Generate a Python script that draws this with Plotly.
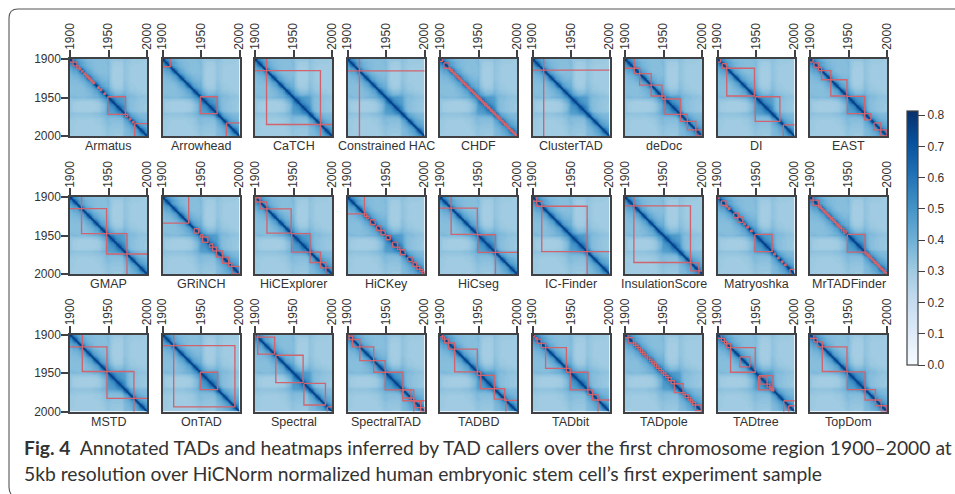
import numpy as np
import plotly.graph_objects as go

W, H = 955, 494
# Shared contact map, upper triangle, read per 3-bin cell (hundredths), from 1900 to 2000
BIN_CENTERS = [1901.5 + 3 * k for k in range(34)]
CONTACT_UPPER = [
    [78,58,50,46,43,40,38,37,36,36,35,35,35,35,35,36,36,33,32,32,32,32,32,34,33,32,31,31,31,31,31,31,30,30],
    [78,58,50,46,43,40,38,37,36,36,35,35,35,35,36,37,33,31,30,30,30,31,34,32,32,31,31,31,31,31,30,30,30],
    [78,56,47,43,41,39,37,36,36,35,35,35,35,35,37,33,30,30,30,30,30,33,32,31,31,30,30,30,30,30,30,30],
    [78,56,47,43,40,38,37,36,35,35,35,35,35,36,33,30,29,29,29,30,33,32,31,30,30,30,30,30,30,30,30],
    [78,56,47,43,40,38,36,35,35,35,35,35,36,33,29,29,29,29,30,33,32,31,30,30,30,30,30,30,30,30],
    [78,56,47,43,40,38,36,35,35,35,35,36,33,29,29,29,29,30,33,32,31,30,30,30,30,30,30,30,30],
    [78,56,47,43,40,38,37,36,36,35,36,33,29,29,29,29,30,33,32,31,30,30,30,30,30,30,30,30],
    [78,56,47,43,40,38,37,36,36,37,33,29,29,29,29,30,33,32,31,30,30,30,30,30,30,30,30],
    [78,56,47,43,40,39,37,37,38,33,29,29,29,29,30,33,32,31,30,30,30,30,30,30,30,30],
    [78,56,47,43,40,39,38,39,33,30,29,29,29,30,34,32,31,30,30,30,30,30,30,30,30],
    [78,56,47,43,41,39,40,34,30,29,29,29,31,34,33,31,31,30,30,30,30,30,30,30],
    [78,56,47,43,41,41,35,31,30,30,30,31,35,33,32,31,31,30,30,30,30,30,30],
    [78,56,48,44,43,37,33,31,31,31,32,35,34,32,31,31,31,30,30,30,30,30],
    [78,57,49,46,40,35,33,33,33,34,37,35,33,32,32,31,31,31,30,30,30],
    [78,58,51,44,40,37,36,36,37,39,36,35,34,33,33,32,32,31,31,31],
    [78,60,50,44,41,41,41,42,42,38,37,36,35,34,33,33,33,32,32],
    [78,60,54,50,48,48,47,46,39,37,36,36,35,34,34,33,33,33],
    [78,60,54,50,48,47,46,39,36,35,35,34,33,33,32,32,32],
    [78,60,54,50,48,47,39,36,35,34,33,33,32,32,32,31],
    [78,60,54,51,48,39,36,35,34,33,33,32,32,31,31],
    [78,60,55,51,40,36,35,34,33,33,32,32,31,31],
    [78,60,55,41,37,35,34,33,33,32,32,31,31],
    [78,60,46,39,36,35,34,33,33,32,32,32],
    [78,58,47,42,39,38,37,36,36,36,35],
    [78,56,47,43,41,39,38,37,37,36],
    [78,56,47,43,41,39,38,37,37],
    [78,56,47,44,42,40,39,38],
    [78,56,48,45,43,41,40],
    [78,56,48,45,43,42],
    [78,57,49,46,44],
    [78,58,50,47],
    [78,58,50],
    [78,58],
    [78],
]

CALLERS = ["Armatus","Arrowhead","CaTCH","Constrained HAC","CHDF","ClusterTAD","deDoc","DI","EAST",
           "GMAP","GRiNCH","HiCExplorer","HiCKey","HiCseg","IC-Finder","InsulationScore","Matryoshka","MrTADFinder",
           "MSTD","OnTAD","Spectral","SpectralTAD","TADBD","TADbit","TADpole","TADtree","TopDom"]

# TAD (start, end) read per caller; starts/ends outside 1900-2000 run past the window
TADS = {
 "Armatus": [(1890,1904),(1904,1909),(1909,1912),(1912,1914),(1915,1917),(1918,1920),(1920,1922),(1922,1924),(1924,1926),(1926,1928),(1928,1930),(1930,1932),(1936,1938),(1939,1941),(1944,1946),(1949,1972),(1972,1975),(1977,1979),(1981,1983),(1984,2010)],
 "Arrowhead": [(1890,1910),(1949,1971),(1983,2010)],
 "CaTCH": [(1890,1915),(1915,1985),(1985,2010)],
 "Constrained HAC": [(1890,1915.5),(1915.5,2010)],
 "CHDF": [(1890,1903),(1905,1912),(1912,1914),(1914,1916),(1916,1918),(1918,1920),(1920,1922),(1922,1924),(1924,1926),(1926,1928),(1928,1930),(1930,1932),(1932,1934),(1934,1936),(1936,1938),(1938,1940),(1940,1942),(1942,1944),(1944,1946),(1946,1948),(1948,1950),(1950,1952),(1952,1954),(1954,1956),(1956,1958),(1958,1960),(1960,1962),(1962,1964),(1964,1966),(1966,1968),(1968,1970),(1970,1972),(1972,1974),(1974,1976),(1976,1978),(1978,1980),(1980,1982),(1982,1984),(1984,1986),(1986,1988),(1988,1990),(1990,1992),(1992,1994),(1994,1996),(1996,1998),(1998,2000)],
 "ClusterTAD": [(1890,1914.5),(1914.5,2010)],
 "deDoc": [(1890,1912),(1912,1919),(1919,1934),(1934,1948),(1948,1952),(1952,1972),(1972,1981),(1981,1992),(1992,2000)],
 "DI": [(1890,1904),(1906,1912),(1912,1948),(1949,1981),(1985.5,2010)],
 "EAST": [(1890,1904),(1905,1911),(1911,1915),(1915,1927),(1927,1948),(1948.5,1971),(1971,1979),(1983,1992),(1992,2000)],
 "GMAP": [(1890,1915),(1915,1947.5),(1947.5,1974),(1974,2010)],
 "GRiNCH": [(1890,1934),(1941,1947),(1949,1952),(1952,1959),(1961,1965),(1965,1970),(1970,1978),(1978,1986),(1986,1990),(1990,2000)],
 "HiCExplorer": [(1890,1901),(1901,1906.5),(1906.5,1915.5),(1915.5,1947),(1947.5,1971.5),(1971.5,1985),(1985,1992),(1992,2010)],
 "HiCKey": [(1890,1922),(1922,1925),(1925,1928),(1929.5,1936),(1937.5,1943.5),(1943.5,1949),(1950,1955.5),(1958.5,1965),(1965,1968),(1968.5,1975),(1978,1984),(1985,1990),(1990,1994),(1994,1997),(1997,2000)],
 "HiCseg": [(1890,1914.5),(1914.5,1948.5),(1949,1972),(1972,2010)],
 "IC-Finder": [(1890,1905.5),(1905.5,1912),(1912,1971),(1971,2010)],
 "InsulationScore": [(1890,1911.5),(1911.5,1985),(1985.5,1996),(1996,2010)],
 "Matryoshka": [(1890,1902),(1905,1911),(1911,1913),(1914,1916),(1921,1927),(1926,1933),(1934,1936),(1938,1940),(1943,1945),(1948.5,1971),(1973,1975),(1978,1980),(1983,1985),(1987,1989),(1994,2010)],
 "MrTADFinder": [(1890,1904),(1904,1911),(1911,1913),(1913,1915),(1915,1917),(1917,1919),(1919,1921),(1921,1923),(1923,1925),(1925,1927),(1927,1929),(1929,1931),(1931,1933),(1933,1935),(1935,1937),(1937,1939),(1939,1941),(1941,1944),(1944,1947),(1948.5,1971.5),(1971.5,1974),(1974,1976),(1976,1978),(1978,1980),(1980,1982),(1982,1984),(1984,1986),(1986,1988),(1988,1990),(1990,1992),(1992,1994),(1994,1996),(1996,1998),(1998,2000)],
 "MSTD": [(1890,1916),(1916,1948),(1948,1983),(1983,2010)],
 "OnTAD": [(1890,1914.5),(1914.5,1994),(1949,1971.5)],
 "Spectral": [(1900,1903.5),(1903.5,1925.5),(1927,1962.5),(1963.5,1991.5),(1994,2010)],
 "SpectralTAD": [(1890,1902),(1902,1906.5),(1906.5,1916),(1916,1934),(1934,1949),(1949,1972),(1972,1986),(1972,1982.5),(1982.5,1986),(1986,2010),(1987,1995),(1995,2000)],
 "TADBD": [(1890,1903),(1903,1906),(1906,1911),(1911,1919),(1919,1948.5),(1948.5,1953),(1953,1970.5),(1970.5,1984),(1984,1985.5),(1985.5,2010)],
 "TADbit": [(1890,1903),(1904,1906),(1906,1911.5),(1911.5,1917),(1917,1944),(1944,1949),(1949,1972),(1972,1978),(1978,1985),(1985,2010)],
 "TADpole": [(1890,1904),(1904,1911),(1911,1914),(1914,1917),(1917,1920),(1920,1923),(1923,1926),(1926,1929),(1929,1932),(1932,1935),(1935,1938),(1938,1941),(1941,1944),(1944,1947),(1947,1950),(1950,1953),(1953,1956),(1956,1960),(1960,1964),(1964,1975.5),(1975.5,1978),(1978,1982),(1982,1985),(1985,1988),(1988,1991.5),(1991.5,1999)],
 "TADtree": [(1890,1905),(1905,1909),(1909,1912),(1912,1917),(1917,1949),(1929,1942),(1953.5,1972),(1955,1964.5),(1964.5,1968),(1968,1970),(1970,1973),(1986,2010),(1992.5,2010)],
 "TopDom": [(1890,1905),(1905,1909.5),(1909.5,1916),(1916,1948),(1948.5,1971.5),(1971.5,1985),(1985,1992.5),(1992.5,2000)],
}

AXIS_TICKS = [1900, 1950, 2000]
CBAR_TICKS = [0.0, 0.1, 0.2, 0.3, 0.4, 0.5, 0.6, 0.7, 0.8]
BLUES = ["#f7fbff","#deebf7","#c6dbef","#9ecae1","#6baed6","#4292c6","#2171b5","#08519c","#08306b"]
CAPTION_1 = "<b>Fig. 4</b>\u00a0\u00a0Annotated TADs and heatmaps inferred by TAD callers over the first chromosome region 1900\u20132000 at"
CAPTION_2 = "5kb resolution over HiCNorm normalized human embryonic stem cell\u2019s first experiment sample"

# ---------------------------------------------------------------- layout
COL_X = [70 + 92.5 * c for c in range(9)]
ROW_Y = [59, 197, 334.5]
PANEL = 77
LABEL_Y = [145.5, 283.5, 421.5]
INK = "#3f4144"
TXT = "#333333"
FONT = "Liberation Sans"

n = len(BIN_CENTERS)
z = np.zeros((n, n))
for i, row in enumerate(CONTACT_UPPER):
    if len(row) != n - i:
        raise ValueError(f"row {i} has {len(row)}")
    for k, v in enumerate(row):
        z[i, i + k] = z[i + k, i] = v / 100.0

fig = go.Figure()
annotations = []
layout = {}
for idx, name in enumerate(CALLERS):
    r, c = divmod(idx, 9)
    sfx = "" if idx == 0 else str(idx + 1)
    x0, y0 = COL_X[c], ROW_Y[r]
    fig.add_trace(go.Heatmap(x=BIN_CENTERS, y=BIN_CENTERS, z=z, coloraxis="coloraxis",
                             zsmooth="best", xaxis="x" + sfx, yaxis="y" + sfx, hoverinfo="skip"))
    # main diagonal ridge of the map
    fig.add_trace(go.Scatter(x=BIN_CENTERS, y=BIN_CENTERS, mode="lines", xaxis="x" + sfx, yaxis="y" + sfx,
                             line=dict(color="#0a3f82", width=1.3), hoverinfo="skip", showlegend=False))
    xs, ys = [], []
    for s, e in TADS[name]:
        xs += [s, e, e, s, s, None]
        ys += [s, s, e, e, s, None]
    fig.add_trace(go.Scatter(x=xs, y=ys, mode="lines", xaxis="x" + sfx, yaxis="y" + sfx,
                             line=dict(color="#d0646e", width=1.35),
                             hoverinfo="skip", showlegend=False))
    layout["xaxis" + sfx] = dict(
        domain=[x0 / W, (x0 + PANEL) / W], range=[1900, 2000], anchor="y" + sfx, side="top",
        tickmode="array", tickvals=AXIS_TICKS, ticks="outside", ticklen=7, tickwidth=1.5, tickcolor=INK,
        tickangle=-90, showline=True, mirror=True, linewidth=1.5, linecolor=INK, showgrid=False, zeroline=False,
        ticklabelstandoff=-2, tickfont=dict(family=FONT, size=12, color=TXT))
    first = c == 0
    layout["yaxis" + sfx] = dict(
        domain=[1 - (y0 + PANEL) / H, 1 - y0 / H], range=[2000, 1900], anchor="x" + sfx,
        tickmode="array", tickvals=AXIS_TICKS if first else [], ticks="outside" if first else "",
        ticklen=7, tickwidth=1.5, tickcolor=INK, showticklabels=first, ticklabelstandoff=-2,
        showline=True, mirror=True, linewidth=1.5, linecolor=INK, showgrid=False, zeroline=False,
        tickfont=dict(family=FONT, size=12, color=TXT))
    annotations.append(dict(text=name, xref="paper", yref="paper", x=(x0 + PANEL / 2) / W,
                            y=1 - LABEL_Y[r] / H, xanchor="center", yanchor="middle", showarrow=False,
                            font=dict(family=FONT, size=12.5, color=TXT)))

for text, yc in ((CAPTION_1, 447), (CAPTION_2, 473.5)):
    annotations.append(dict(text=text, xref="paper", yref="paper", x=21.5 / W, y=1 - yc / H,
                            xanchor="left", yanchor="middle", showarrow=False,
                            font=dict(family="Lato", size=19.3, color="#333333")))

px = lambda a: a / W
py = lambda b: 1 - b / H
frame = (f"M {px(11)} {py(494)} Q {px(9)} {py(491)} {px(9)} {py(487)} L {px(9)} {py(18)} "
         f"Q {px(9)} {py(9)} {px(18)} {py(9)} L {px(955)} {py(9)}")

fig.update_layout(
    width=W, height=H, margin=dict(l=0, r=0, t=0, b=0, autoexpand=False), paper_bgcolor="white", plot_bgcolor="white",
    showlegend=False, annotations=annotations,
    shapes=[dict(type="path", path=frame, xref="paper", yref="paper", line=dict(color="#555555", width=1.1))],
    coloraxis=dict(
        cmin=0, cmax=0.813, colorscale=[[i / 8, col] for i, col in enumerate(BLUES)],
        colorbar=dict(x=906.5 / W, xanchor="left", y=1 - 365 / H, yanchor="bottom", len=254 / H, lenmode="fraction",
                      thickness=10.5, thicknessmode="pixels", xpad=0, ypad=0, outlinewidth=1.2, outlinecolor=INK,
                      tickmode="array", tickvals=CBAR_TICKS, tickformat=".1f", ticks="outside", ticklen=7, tickwidth=1.2,
                      tickcolor=INK, tickfont=dict(family=FONT, size=12, color=TXT))),
    **layout,
)

fig.write_html("out.html", config={"displayModeBar": False},
               post_script="document.body.style.margin='0';document.body.style.overflow='hidden';")
